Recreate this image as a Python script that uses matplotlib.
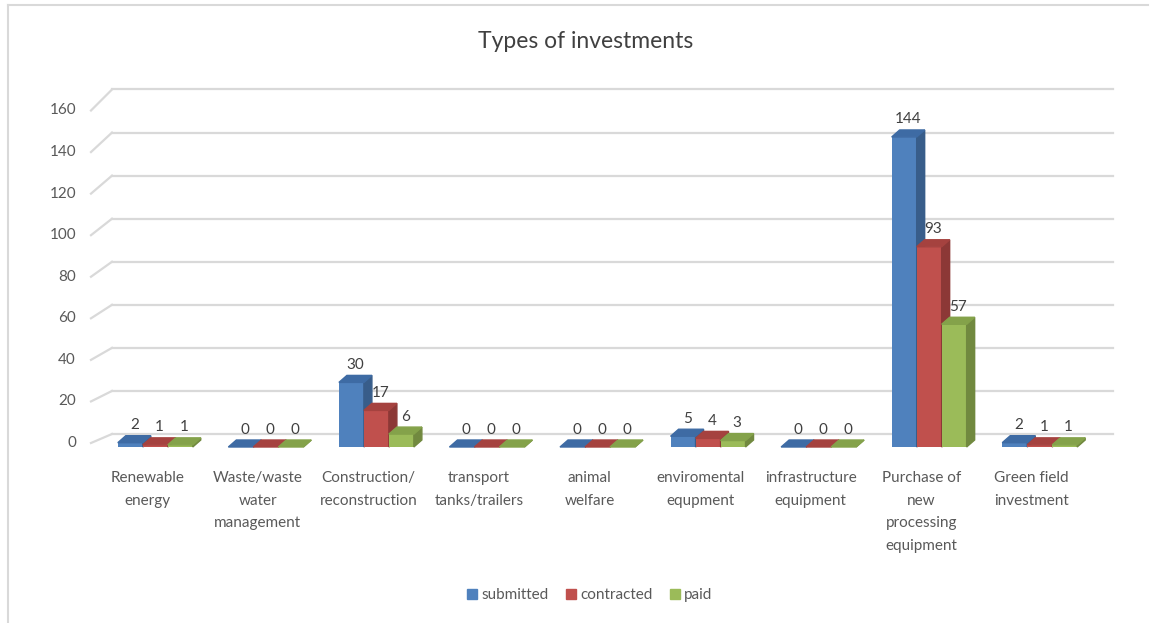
import matplotlib
matplotlib.use("Agg")
import matplotlib.pyplot as plt
from matplotlib.patches import Polygon
from matplotlib.lines import Line2D

plt.rcParams['font.family'] = ['Lato', 'DejaVu Sans']

# data
categories = ["Renewable\nenergy", "Waste/waste\nwater\nmanagement",
              "Construction/\nreconstruction", "transport\ntanks/trailers",
              "animal\nwelfare", "enviromental\nequpment",
              "infrastructure\nequipment",
              "Purchase of\nnew\nprocessing\nequipment",
              "Green field\ninvestment"]
submitted = [2, 0, 30, 0, 0, 5, 0, 144, 2]
contracted = [1, 0, 17, 0, 0, 4, 0, 93, 1]
paid = [1, 0, 6, 0, 0, 3, 0, 57, 1]
series_names = ["submitted", "contracted", "paid"]
yticks = [0, 20, 40, 60, 80, 100, 120, 140, 160]

# front, side, top colours for the fake 3d look
colors = [("#4F81BD", "#385D8A", "#3E6BA4"),
          ("#C0504D", "#8C3836", "#A5423F"),
          ("#9BBB59", "#71893F", "#84A24A")]
text_col = "#595959"

fig = plt.figure(figsize=(11.53, 6.23), dpi=100)
ax = fig.add_axes([97/1153, 176/623, 995/1153, 344.5/623])
ax.set_xlim(-0.5, len(categories) - 0.5)
ax.set_ylim(0, 160)
ax.axis("off")

fig.canvas.draw()
bb = ax.get_window_extent()
ppx = bb.width / (len(categories))   # pixels per category
ppy = bb.height / 160.0              # pixels per unit
px = lambda p: p / ppx
py = lambda p: p / ppy

xmin, xmax = ax.get_xlim()

# back wall gridlines + diagonal floor ticks
grid_col = "#D9D9D9"
for v in yticks:
    dy = 9 + 12 * v / 160.0
    ax.add_line(Line2D([xmin + px(15), xmax + px(21)], [v + py(13), v + py(13)],
                       color=grid_col, lw=1.6, clip_on=False, zorder=0))
    ax.add_line(Line2D([xmin - px(6), xmin + px(15)], [v + py(13 - dy), v + py(13)],
                       color=grid_col, lw=1.6, clip_on=False, zorder=0))
    ax.text(xmin - px(21), v + py(13 - dy), str(v), ha="right", va="center",
            fontsize=11, color=text_col)

bw = 0.226
ddx, ddy = px(8), py(7)
shift = px(3)
for s, vals in enumerate([submitted, contracted, paid]):
    front, side, top = colors[s]
    for i, h in enumerate(vals):
        x0 = i + (s - 1.5) * bw + shift
        x1 = x0 + bw
        z = 2 + s * 3
        ax.bar(x0, h, width=bw, align="edge", color=front, zorder=z, clip_on=False)
        ax.add_patch(Polygon([(x1, 0), (x1 + ddx, ddy), (x1 + ddx, h + ddy), (x1, h)],
                             closed=True, color=side, zorder=z + 1, clip_on=False))
        ax.add_patch(Polygon([(x0, h), (x1, h), (x1 + ddx, h + ddy), (x0 + ddx, h + ddy)],
                             closed=True, color=top, zorder=z + 1, clip_on=False))
        ax.annotate(str(h), (x0 + bw / 2 + ddx / 2, h + ddy), xytext=(0, 2.5),
                    textcoords="offset points", ha="center", va="bottom",
                    fontsize=11, color="#404040", zorder=20, annotation_clip=False)

for i, lab in enumerate(categories):
    ax.text(i - px(5), -py(24), lab, ha="center", va="top", fontsize=11,
            color=text_col, linespacing=1.78, clip_on=False)

fig.text(586/1153, 1 - 42/623, "Types of investments", ha="center", va="center",
         fontsize=16.5, color="#404040")

handles = [plt.Rectangle((0, 0), 1, 1, color=c[0]) for c in colors]
fig.legend(handles, series_names, loc="center", bbox_to_anchor=(590/1153, 1 - 595/623),
           ncol=3, frameon=False, fontsize=11, handlelength=0.65, handleheight=0.65,
           handletextpad=0.3, columnspacing=1.1, labelcolor=text_col)

# chart border (top and left visible in the original)
fig.add_artist(Line2D([8/1153, 8/1153], [0, 1 - 5/623], color="#D9D9D9", lw=1.5))
fig.add_artist(Line2D([8/1153, 1148/1153], [1 - 5/623, 1 - 5/623], color="#D9D9D9", lw=1.5))

fig.savefig("out.png", dpi=100)
